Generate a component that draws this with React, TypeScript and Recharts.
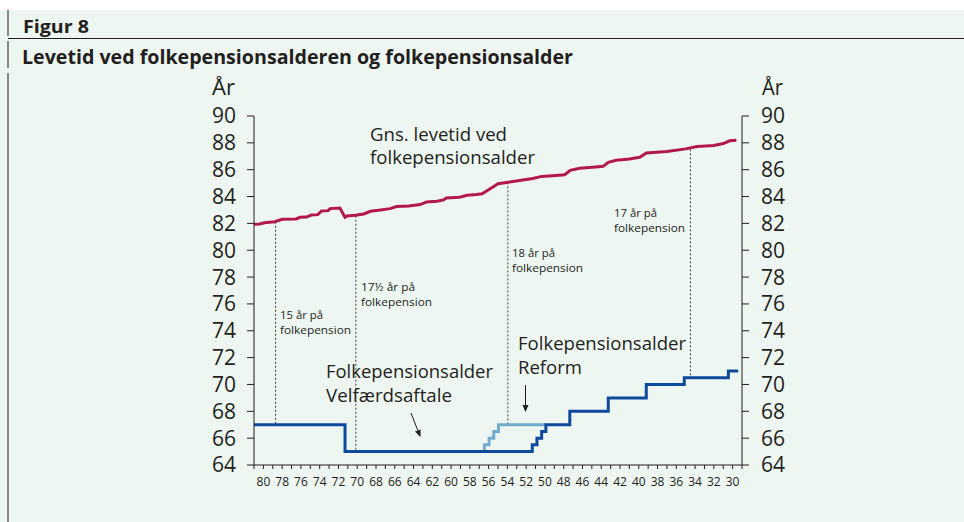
import React from "react";
import { LineChart, Line, XAxis, YAxis, ReferenceLine } from "recharts";

// ---------- data ----------
const ageTicks: number[] = [];
for (let a = 29; a <= 81; a++) ageTicks.push(a);
const yTicks = [64, 66, 68, 70, 72, 74, 76, 78, 80, 82, 84, 86, 88, 90];

// Gns. levetid ved folkepensionsalder (x = age label, y = years)
const lifeAges = [81, 80.4, 79.9, 78.8, 78.0, 76.5, 76.1, 75.4, 74.9, 74.2, 73.8, 73.1, 72.9, 71.85, 71.3, 71.1, 70.2, 69.3, 68.6, 67.5, 66.5, 65.8, 64.5, 63.3, 62.6, 61.5, 60.8, 60.5, 59.1, 58.3, 57.3, 56.7, 56.0, 55.0, 54.1, 52.7, 51.3, 50.35, 49.2, 47.9, 47.3, 46.3, 44.6, 43.8, 43.25, 42.4, 41.0, 39.9, 39.2, 37.0, 35.0, 33.8, 32.0, 31.0, 30.3, 29.6];
const lifeValues = [81.93, 81.95, 82.05, 82.12, 82.3, 82.33, 82.45, 82.47, 82.62, 82.65, 82.92, 82.95, 83.1, 83.15, 82.45, 82.55, 82.6, 82.7, 82.9, 83.0, 83.1, 83.25, 83.3, 83.4, 83.6, 83.65, 83.75, 83.9, 83.95, 84.1, 84.15, 84.2, 84.5, 84.95, 85.05, 85.2, 85.35, 85.5, 85.55, 85.62, 85.95, 86.1, 86.2, 86.25, 86.55, 86.7, 86.8, 86.92, 87.25, 87.35, 87.55, 87.72, 87.8, 87.95, 88.15, 88.2];

// Folkepensionsalder Velfærdsaftale
const welfareAges = [81, 71.3, 71.3, 51.35, 51.35, 50.85, 50.85, 50.35, 50.35, 49.9, 49.9, 47.35, 47.35, 43.25, 43.25, 39.2, 39.2, 35.15, 35.15, 30.45, 30.45, 29.4];
const welfareValues = [67, 67, 65, 65, 65.5, 65.5, 66, 66, 66.5, 66.5, 67, 67, 68, 68, 69, 69, 70, 70, 70.5, 70.5, 71, 71];

// Folkepensionsalder Reform
const reformAges = [56.45, 56.45, 55.95, 55.95, 55.45, 55.45, 54.95, 54.95, 49.9];
const reformValues = [65, 65.5, 65.5, 66, 66, 66.5, 66.5, 67, 67];

// "x år på folkepension" guides
const guideAges = [78.7, 70.15, 53.95, 34.5];
const guideTops = [82.12, 82.57, 85.05, 87.52];
const guideBottoms = [67, 65, 67, 70.5];

const lifeData = lifeAges.map((a, i) => ({ age: a, v: lifeValues[i] }));
const welfareData = welfareAges.map((a, i) => ({ age: a, v: welfareValues[i] }));
const reformData = reformAges.map((a, i) => ({ age: a, v: reformValues[i] }));

const BG = "#eef6f2";
const INK = "#231f20";
const FONT = "'Open Sans', 'Noto Sans', sans-serif";

const T = (p: { x: number; y: number; w: number; s: number; b?: boolean; children: string }) => (
  <text
    x={p.x}
    y={p.y}
    fontSize={p.s}
    fontWeight={p.b ? 700 : 400}
    fill={INK}
    fontFamily={FONT}
    textLength={p.w}
    lengthAdjust="spacingAndGlyphs"
  >
    {p.children}
  </text>
);

export default function App() {
  return (
    <div style={{ position: "absolute", left: 0, top: 0, width: 964, height: 522, background: "#fff", overflow: "hidden" }}>
      <div style={{ position: "absolute", left: 0, top: 10, width: 964, height: 512, background: BG }} />
      <div style={{ position: "absolute", left: 0, top: 0 }}>
        <LineChart width={964} height={522} margin={{ top: 116, right: 162, bottom: 17, left: 194 }}>
          <XAxis
            dataKey="age"
            type="number"
            domain={[29, 81]}
            allowDataOverflow
            reversed
            ticks={ageTicks}
            interval={0}
            tickFormatter={(v: number) => (v % 2 === 0 && v >= 30 && v <= 80 ? String(v) : "")}
            tickSize={4}
            tickMargin={8}
            height={40}
            stroke={INK}
            tick={{ fill: INK, fontSize: 12, fontFamily: FONT }}
          />
          <YAxis
            yAxisId="left"
            orientation="left"
            domain={[64, 90]}
            ticks={yTicks}
            interval={0}
            width={60}
            tickSize={7}
            tickMargin={11}
            stroke={INK}
            tick={{ fill: INK, fontSize: 21, fontFamily: FONT }}
          />
          <YAxis
            yAxisId="right"
            orientation="right"
            domain={[64, 90]}
            ticks={yTicks}
            interval={0}
            width={60}
            tickSize={7}
            tickMargin={12}
            stroke={INK}
            tick={{ fill: INK, fontSize: 21, fontFamily: FONT, textAnchor: "start" }}
          />
          {guideAges.map((a, i) => (
            <ReferenceLine
              key={"g" + i}
              yAxisId="left"
              segment={[
                { x: a, y: guideTops[i] },
                { x: a, y: guideBottoms[i] },
              ]}
              stroke="#3a3a3a"
              strokeWidth={1}
              strokeDasharray="2 2"
            />
          ))}
          <Line
            yAxisId="right"
            data={lifeData}
            dataKey="v"
            type="linear"
            dot={false}
            stroke="none"
            strokeWidth={0}
            isAnimationActive={false}
          />
          <Line
            yAxisId="left"
            data={lifeData}
            dataKey="v"
            type="linear"
            dot={false}
            stroke="#b3184d"
            strokeWidth={3}
            isAnimationActive={false}
          />
          <Line
            yAxisId="left"
            data={reformData}
            dataKey="v"
            type="linear"
            dot={false}
            stroke="#72abcf"
            strokeWidth={3}
            isAnimationActive={false}
          />
          <Line
            yAxisId="left"
            data={welfareData}
            dataKey="v"
            type="linear"
            dot={false}
            stroke="#0d4a9b"
            strokeWidth={3}
            isAnimationActive={false}
          />
        </LineChart>
      </div>
      <svg width={964} height={522} style={{ position: "absolute", left: 0, top: 0, pointerEvents: "none" }}>
        <defs>
          <marker id="ah" markerWidth="8" markerHeight="8" refX="6" refY="4" orient="auto" markerUnits="userSpaceOnUse">
            <path d="M0,1 L7,4 L0,7 Z" fill={INK} />
          </marker>
        </defs>
        {/* frame lines */}
        <line x1={8} y1={10} x2={8} y2={36} stroke={INK} strokeWidth={1} />
        <line x1={8} y1={41} x2={8} y2={68} stroke={INK} strokeWidth={1} />
        <line x1={8} y1={73} x2={8} y2={522} stroke={INK} strokeWidth={1} />
        <line x1={8} y1={38.5} x2={964} y2={38.5} stroke={INK} strokeWidth={1} />
        <T x={23} y={33} w={66} s={18} b>Figur 8</T>
        <T x={22} y={64} w={551} s={20} b>Levetid ved folkepensionsalderen og folkepensionsalder</T>
        {/* axis units */}
        <T x={212} y={95} w={23} s={21}>År</T>
        <T x={762} y={95} w={21} s={21}>År</T>
        {/* series labels */}
        <T x={370} y={141} w={137} s={18}>Gns. levetid ved</T>
        <T x={370} y={164} w={165} s={18}>folkepensionsalder</T>
        <T x={326} y={378} w={167} s={18}>Folkepensionsalder</T>
        <T x={326} y={402} w={126} s={18}>Velfærdsaftale</T>
        <T x={518} y={350} w={168} s={18}>Folkepensionsalder</T>
        <T x={518} y={374} w={64} s={18}>Reform</T>
        {/* small annotations */}
        <T x={280} y={319} w={43} s={11}>15 år på</T>
        <T x={280} y={334} w={71} s={11}>folkepension</T>
        <T x={361} y={291} w={54} s={11}>17½ år på</T>
        <T x={361} y={306} w={71} s={11}>folkepension</T>
        <T x={512} y={257} w={43} s={11}>18 år på</T>
        <T x={512} y={272} w={71} s={11}>folkepension</T>
        <T x={614} y={217} w={43} s={11}>17 år på</T>
        <T x={614} y={232} w={71} s={11}>folkepension</T>
        {/* arrows */}
        <line x1={411} y1={413} x2={420} y2={436} stroke={INK} strokeWidth={1} markerEnd="url(#ah)" />
        <line x1={525.5} y1={385} x2={525.5} y2={411} stroke={INK} strokeWidth={1} markerEnd="url(#ah)" />
      </svg>
    </div>
  );
}
